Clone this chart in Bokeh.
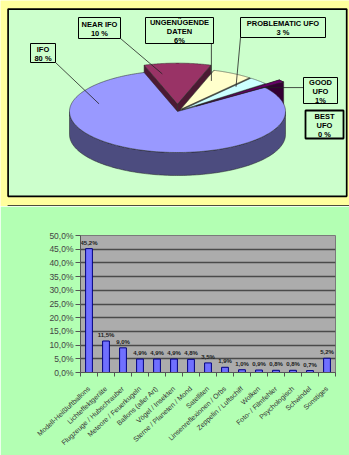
import numpy as np
from bokeh.plotting import figure
from bokeh.layouts import column
from bokeh.models import (Range1d, FixedTicker, CustomJSTickFormatter, ColumnDataSource,
                          BoxAnnotation)
from bokeh.core.properties import value
from bokeh.embed import file_html
from bokeh.resources import INLINE

# ---------------- data ----------------
pie_names = ["IFO", "NEAR IFO", "UNGENÜGENDE DATEN", "PROBLEMATIC UFO", "GOOD UFO", "BEST UFO"]
pie_values = [80, 10, 6, 3, 1, 0]
pie_label_texts = ["IFO\n80 %", "NEAR IFO\n10 %", "UNGENÜGENDE\nDATEN\n6%",
                   "PROBLEMATIC UFO\n3 %", "GOOD\nUFO\n1%", "BEST\nUFO\n0 %"]

bar_categories = ["Modell-Heißluftballons", "Lichteffektgeräte", "Flugzeuge / Hubschrauber",
                  "Meteore / Feuerkugeln", "Ballons (aller Art)", "Vögel / Insekten",
                  "Sterne / Planeten / Mond", "Satelliten", "Linsenreflexionen / Orbs",
                  "Zeppelin / Luftschiff", "Wolken", "Foto- / Filmfehler", "Psychologisch",
                  "Schwindel", "Sonstiges"]
bar_values = [45.2, 11.5, 9.0, 4.9, 4.9, 4.9, 4.8, 3.5, 1.9, 1.0, 0.9, 0.8, 0.8, 0.7, 5.2]
y_ticks = [0, 5, 10, 15, 20, 25, 30, 35, 40, 45, 50]
y_tick_labels = ["0,0%", "5,0%", "10,0%", "15,0%", "20,0%", "25,0%", "30,0%",
                 "35,0%", "40,0%", "45,0%", "50,0%"]

# ---------------- styles ----------------
YELLOW = "#ffff9e"
GREEN1 = "#ccffcc"
GREEN2 = "#b3ffb3"
FONT = "Liberation Sans"
pie_colors = ["#9999ff", "#993366", "#ffffcc", "#ccffff", "#660066", "#ff8080"]
explode = [0.0, 0.18, 0.06, 0.06, 0.22, 0.0]
label_boxes = [(30, 55, 43, 62), (78, 120, 17, 38), (145, 213, 17, 43),
               (240, 325, 17, 37), (303, 337, 77, 103), (305, 343, 110, 138)]
CX, CY, RX, RY, DEPTH = 177.0, 111.0, 108.0, 41.0, 23.0
START = np.deg2rad(36.0)
W = 349


def darken(hexcol, f):
    h = hexcol.lstrip("#")
    r, g, b = (int(h[i:i + 2], 16) for i in (0, 2, 4))
    return "#%02x%02x%02x" % (int(r * f), int(g * f), int(b * f))


# ---------------- top: 3D pie ----------------
top = figure(width=W, height=206, x_range=Range1d(0, W), y_range=Range1d(206, 0),
             toolbar_location=None, output_backend="svg", min_border=0,
             x_axis_location=None, y_axis_location=None)
top.grid.visible = False
top.outline_line_color = None
top.background_fill_color = YELLOW
top.border_fill_color = YELLOW

top.quad(left=7.6, right=346.2, top=8.6, bottom=195.8, fill_color=GREEN1,
         line_color="black", line_width=1.7)
top.quad(left=7.6, right=360, top=205.2, bottom=230, fill_color=GREEN2,
         line_color="#4d4d3a", line_width=1.6)

total = float(sum(pie_values))
slices = []
a_hi = START
for i, v in enumerate(pie_values):
    span = 2 * np.pi * v / total
    a_lo = a_hi - span
    slices.append((a_hi, a_lo))
    a_hi = a_lo

wall_xs, wall_ys, wall_cols = [], [], []
face_xs, face_ys, face_cols = [], [], []
offsets = []
for i, (a0, a1) in enumerate(slices):
    if pie_values[i] <= 0:
        offsets.append((0.0, 0.0))
        continue
    m = 0.5 * (a0 + a1)
    ox = explode[i] * RX * np.cos(m)
    oy = -explode[i] * RY * np.sin(m)
    offsets.append((ox, oy))
    cx, cy = CX + ox, CY + oy
    t = np.linspace(a0, a1, 240)
    ax = cx + RX * np.cos(t)
    ay = cy - RY * np.sin(t)
    dark = darken(pie_colors[i], 0.5)
    for a in (a0, a1):
        ex, ey = cx + RX * np.cos(a), cy - RY * np.sin(a)
        wall_xs.append([cx, ex, ex, cx])
        wall_ys.append([cy, ey, ey + DEPTH, cy + DEPTH])
        wall_cols.append(dark)
    mask = np.sin(t) <= 0
    if mask.sum() > 1:
        tx, ty = ax[mask], ay[mask]
        wall_xs.append(list(tx) + list(tx[::-1]))
        wall_ys.append(list(ty) + list((ty + DEPTH)[::-1]))
        wall_cols.append(dark)
    face_xs.append([cx] + list(ax))
    face_ys.append([cy] + list(ay))
    face_cols.append(pie_colors[i])

top.patches(wall_xs, wall_ys, fill_color=wall_cols, line_color="#222222", line_width=0.5)
top.patches(face_xs, face_ys, fill_color=face_cols, line_color="#222222", line_width=0.5)

lx0, ly0, lx1, ly1 = [], [], [], []
for i, (a0, a1) in enumerate(slices):
    if pie_values[i] <= 0:
        continue
    l, r, tp, bt = label_boxes[i]
    bx, by = 0.5 * (l + r), 0.5 * (tp + bt)
    phi = np.arctan2(-(by - CY) / RY, (bx - CX) / RX)
    cands = [phi + 2 * np.pi * k for k in range(-2, 3)]
    inside = [c for c in cands if a1 <= c <= a0]
    if inside:
        phi = inside[0]
    else:
        d0 = min(abs(c - a0) for c in cands)
        d1 = min(abs(c - a1) for c in cands)
        phi = a0 if d0 < d1 else a1
    mg = 0.2 * (a0 - a1)
    phi = min(max(phi, a1 + mg), a0 - mg)
    ox, oy = offsets[i]
    ax_ = CX + ox + 0.75 * RX * np.cos(phi)
    ay_ = CY + oy - 0.75 * RY * np.sin(phi)
    sx = min(max(ax_, l), r)
    sy = min(max(ay_, tp), bt)
    lx0.append(sx); ly0.append(sy); lx1.append(ax_); ly1.append(ay_)
top.segment(lx0, ly0, lx1, ly1, line_color="#222222", line_width=0.8)

bl = [b[0] for b in label_boxes]
br = [b[1] for b in label_boxes]
btp = [b[2] for b in label_boxes]
bbt = [b[3] for b in label_boxes]
bw = [1.0, 1.0, 1.0, 1.0, 1.0, 1.8]
top.quad(left=bl, right=br, top=btp, bottom=bbt, fill_color=GREEN1,
         line_color="black", line_width=bw)
top.text(x=[0.5 * (a + b) for a, b in zip(bl, br)],
         y=[0.5 * (a + b) + 0.5 for a, b in zip(btp, bbt)],
         text=pie_label_texts, text_font=value(FONT), text_font_style="bold",
         text_font_size="7.5px", text_align="center", text_baseline="middle",
         text_line_height=1.0, text_color="black")

# ---------------- bottom: bar chart ----------------
bot = figure(width=W, height=249, x_range=Range1d(0, len(bar_categories)),
             y_range=Range1d(0, 50), toolbar_location=None, output_backend="svg",
             min_border_left=80, min_border_right=14, min_border_top=29,
             min_border_bottom=83)
bot.border_fill_color = GREEN2
bot.background_fill_color = "#acacac"
bot.outline_line_color = "#7a7a7a"
bot.outline_line_width = 1

for fig in (top, bot):
    try:
        fig.frame_align = False
    except Exception:
        pass

try:
    bot.add_layout(BoxAnnotation(left=0, right=6.6, top=0, bottom=249,
                                 left_units="canvas", right_units="canvas",
                                 top_units="canvas", bottom_units="canvas",
                                 fill_color=YELLOW, fill_alpha=1, line_color=None,
                                 level="overlay"))
    bot.add_layout(BoxAnnotation(left=6.6, right=8.4, top=0, bottom=249,
                                 left_units="canvas", right_units="canvas",
                                 top_units="canvas", bottom_units="canvas",
                                 fill_color="black", fill_alpha=1, line_color=None,
                                 level="overlay"))
except Exception:
    pass

xs = [i + 0.5 for i in range(len(bar_categories))]
src = ColumnDataSource(dict(x=xs, top=bar_values,
                            lab=[("%.1f%%" % v).replace(".", ",") for v in bar_values]))
bot.vbar(x="x", top="top", width=0.4, bottom=0, source=src,
         fill_color="#7070ff", line_color="#000080", line_width=1)
bot.text(x="x", y="top", text="lab", source=src, text_font=value(FONT),
         text_font_style="bold", text_font_size="6px", text_align="center",
         text_baseline="bottom", y_offset=-3, text_color="#222222")

bot.xgrid.visible = False
bot.ygrid.ticker = FixedTicker(ticks=y_ticks[1:-1])
bot.ygrid.grid_line_color = "#4a4a4a"
bot.ygrid.grid_line_width = 1.4

ya = bot.yaxis[0]
ya.ticker = FixedTicker(ticks=y_ticks)
ya.major_label_overrides = {t: s for t, s in zip(y_ticks, y_tick_labels)}
ya.major_label_text_font = FONT
ya.major_label_text_font_size = "8.5px"
ya.major_label_text_color = "#444444"
ya.major_tick_out = 5
ya.major_tick_in = 0
ya.minor_tick_line_color = None
ya.major_tick_line_color = "#555555"
ya.axis_line_color = "#555555"
ya.major_label_standoff = 2

xa = bot.xaxis[0]
xa.ticker = FixedTicker(ticks=xs, minor_ticks=list(range(len(bar_categories) + 1)))
xa.formatter = CustomJSTickFormatter(args=dict(cats=bar_categories),
                                     code="return cats[Math.round(tick - 0.5)] || '';")
xa.major_tick_line_color = None
xa.major_tick_out = 0
xa.major_tick_in = 0
xa.minor_tick_out = 4
xa.minor_tick_in = 0
xa.minor_tick_line_color = "#555555"
xa.axis_line_color = "#555555"
xa.major_label_orientation = np.deg2rad(43)
xa.major_label_text_font = FONT
xa.major_label_text_font_size = "7px"
xa.major_label_text_color = "#333333"
xa.major_label_standoff = 11

layout = column(top, bot)

open("out.html", "w").write(file_html(layout, INLINE))
